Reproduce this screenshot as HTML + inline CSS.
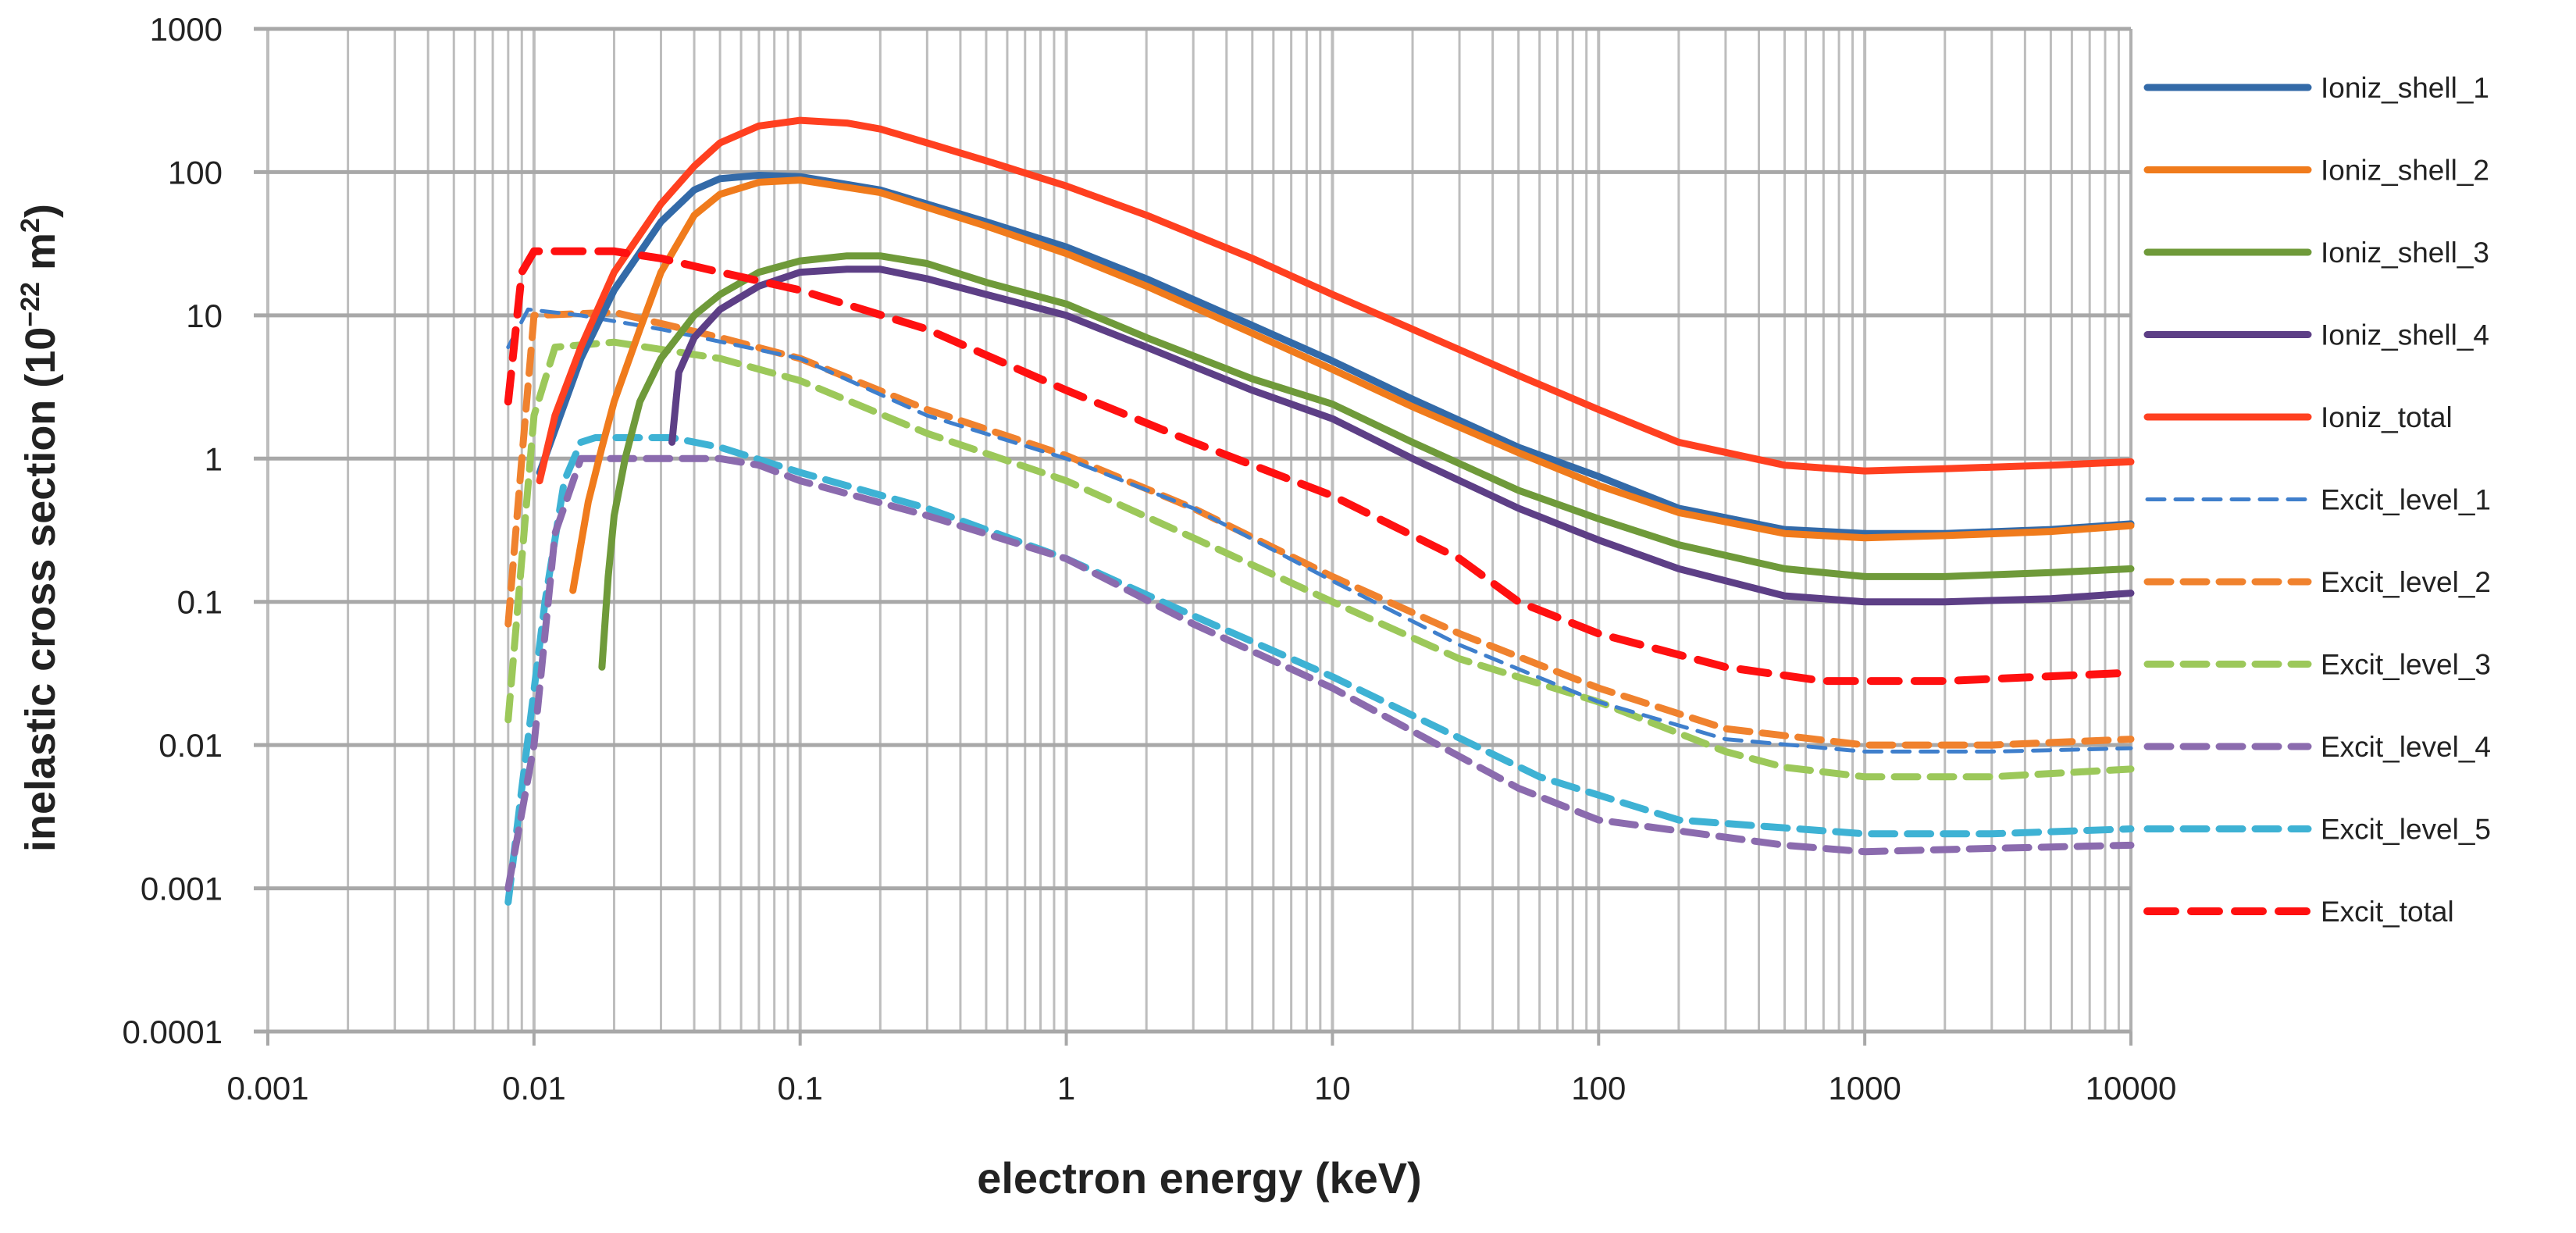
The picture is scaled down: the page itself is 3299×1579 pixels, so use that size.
<!DOCTYPE html>
<html><head><meta charset="utf-8"><style>
html,body{margin:0;padding:0;background:#fff;}
svg{display:block;}
text{font-family:"Liberation Sans",sans-serif;}
</style></head>
<body>
<svg id="chart" width="3299" height="1579" viewBox="0 0 3299 1579" xmlns="http://www.w3.org/2000/svg">
<g id="grid"></g>
<g id="series"></g>
<g id="ticks"></g>
<g id="legend"></g>
<text x="1536" y="1528" text-anchor="middle" font-size="56" font-weight="bold" fill="#222">electron energy (keV)</text>
<text transform="translate(70,676) rotate(-90)" text-anchor="middle" font-size="54" font-weight="bold" fill="#222">inelastic cross section (10<tspan font-size="34" dy="-20">−22</tspan><tspan dy="20"> m</tspan><tspan font-size="34" dy="-20">2</tspan><tspan dy="20">)</tspan></text>
</svg>
<script>
const xTickLabels = ["0.001","0.01","0.1","1","10","100","1000","10000"];
const yTickLabels = ["1000","100","10","1","0.1","0.01","0.001","0.0001"];
const seriesNames = ["Ioniz_shell_1","Ioniz_shell_2","Ioniz_shell_3","Ioniz_shell_4","Ioniz_total","Excit_level_1","Excit_level_2","Excit_level_3","Excit_level_4","Excit_level_5","Excit_total"];

const ionizShell1 = [[0.0105,0.8],[0.015,5],[0.02,15],[0.03,45],[0.04,75],[0.05,90],[0.07,95],[0.1,93],[0.2,75],[0.5,45],[1,30],[2,18],[5,8.5],[10,4.8],[20,2.6],[50,1.2],[100,0.75],[200,0.45],[500,0.32],[1000,0.3],[2000,0.3],[5000,0.32],[10000,0.35]];
const ionizShell2 = [[0.014,0.12],[0.016,0.5],[0.018,1.2],[0.02,2.5],[0.025,8],[0.03,20],[0.04,50],[0.05,70],[0.07,85],[0.1,88],[0.2,72],[0.5,42],[1,27],[2,16],[5,7.5],[10,4.2],[20,2.3],[50,1.1],[100,0.65],[200,0.42],[500,0.3],[1000,0.28],[2000,0.29],[5000,0.31],[10000,0.34]];
const ionizShell3 = [[0.018,0.035],[0.019,0.15],[0.02,0.4],[0.022,1],[0.025,2.5],[0.03,5],[0.04,10],[0.05,14],[0.07,20],[0.1,24],[0.15,26],[0.2,26],[0.3,23],[0.5,17],[1,12],[2,7],[5,3.6],[10,2.4],[20,1.3],[50,0.6],[100,0.38],[200,0.25],[500,0.17],[1000,0.15],[2000,0.15],[5000,0.16],[10000,0.17]];
const ionizShell4 = [[0.033,1.3],[0.035,4],[0.04,7],[0.05,11],[0.07,16],[0.1,20],[0.15,21],[0.2,21],[0.3,18],[0.5,14],[1,10],[2,6],[5,3],[10,1.9],[20,1],[50,0.45],[100,0.27],[200,0.17],[500,0.11],[1000,0.1],[2000,0.1],[5000,0.105],[10000,0.115]];
const ionizTotal = [[0.0105,0.7],[0.012,2],[0.015,6],[0.02,20],[0.03,60],[0.04,110],[0.05,160],[0.07,210],[0.1,230],[0.15,220],[0.2,200],[0.3,160],[0.5,120],[1,80],[2,50],[5,25],[10,14],[20,8],[50,3.8],[100,2.2],[200,1.3],[500,0.9],[1000,0.82],[2000,0.85],[5000,0.9],[10000,0.95]];
const excitLevel1 = [[0.008,6],[0.0095,11],[0.015,10],[0.03,8],[0.1,5],[0.3,2],[1,1],[3,0.45],[10,0.14],[30,0.05],[100,0.02],[300,0.011],[1000,0.009],[3000,0.009],[10000,0.0095]];
const excitLevel2 = [[0.008,0.07],[0.009,1],[0.01,10],[0.02,10.5],[0.05,7],[0.1,5],[0.3,2.2],[1,1.05],[3,0.45],[10,0.15],[30,0.06],[100,0.025],[300,0.013],[1000,0.01],[3000,0.01],[10000,0.011]];
const excitLevel3 = [[0.008,0.015],[0.01,2],[0.012,6],[0.02,6.5],[0.05,5],[0.1,3.5],[0.3,1.5],[1,0.7],[3,0.28],[10,0.1],[30,0.04],[100,0.02],[300,0.009],[500,0.007],[1000,0.006],[3000,0.006],[10000,0.0068]];
const excitLevel4 = [[0.008,0.001],[0.01,0.01],[0.012,0.3],[0.015,1],[0.05,1],[0.07,0.9],[0.1,0.7],[0.3,0.4],[1,0.2],[3,0.07],[10,0.025],[50,0.005],[100,0.003],[500,0.002],[1000,0.0018],[3000,0.0019],[10000,0.002]];
const excitLevel5 = [[0.008,0.0008],[0.009,0.005],[0.011,0.1],[0.013,0.7],[0.015,1.3],[0.017,1.4],[0.033,1.4],[0.05,1.2],[0.1,0.8],[0.3,0.45],[1,0.2],[3,0.08],[10,0.03],[60,0.006],[200,0.003],[1000,0.0024],[3000,0.0024],[10000,0.0026]];
const excitTotal = [[0.008,2.5],[0.009,20],[0.01,28],[0.02,28],[0.03,25],[0.05,20],[0.1,15],[0.3,8],[1,3],[3,1.3],[10,0.55],[30,0.2],[50,0.1],[100,0.06],[300,0.035],[700,0.028],[2000,0.028],[10000,0.032]];

const X0=343, X1=2729, Y0=37, Y1=1321;
function xs(v){return X0+(Math.log10(v)+3)/7*(X1-X0);}
function ys(v){return Y0+(3-Math.log10(v))/7*(Y1-Y0);}
const NS="http://www.w3.org/2000/svg";
function mk(tag,attrs,parent){const e=document.createElementNS(NS,tag);for(const k in attrs)e.setAttribute(k,attrs[k]);parent.appendChild(e);return e;}

const grid=document.getElementById('grid');
for(let d=-3;d<4;d++){for(let m=1;m<10;m++){const v=m*Math.pow(10,d);const x=xs(v);
 const l=mk('line',{x1:x,x2:x,y1:Y0,y2:Y1,stroke:'#bdbdbd','stroke-width':m===1?4:3},grid);
 
 }}
{const x=xs(10000);const l=mk('line',{x1:x,x2:x,y1:Y0,y2:Y1+18,stroke:'#b0b0b0','stroke-width':4},grid);
 
 }
for(let i=0;i<8;i++){const y=ys(Math.pow(10,3-i));
 const l=mk('line',{x1:X0-18,x2:X1,y1:y,y2:y,stroke:'#a8a8a8','stroke-width':5},grid);
 
 }
for(let i=0;i<8;i++){const x=xs(Math.pow(10,i-3));
 const l=mk('line',{x1:x,x2:x,y1:Y1,y2:Y1+18,stroke:'#a8a8a8','stroke-width':4},grid);
 
 }

const ticks=document.getElementById('ticks');
xTickLabels.forEach((t,i)=>{const e=mk('text',{x:xs(Math.pow(10,i-3)),y:1408,'text-anchor':'middle','font-size':42,fill:'#222'},ticks);e.textContent=t;
 
 });
yTickLabels.forEach((t,i)=>{const e=mk('text',{x:285,y:ys(Math.pow(10,3-i))+15,'text-anchor':'end','font-size':42,fill:'#222'},ticks);e.textContent=t;
 
 });

const styles=[
 {c:'#336aa8',w:9,d:''},{c:'#f07b1c',w:9,d:''},{c:'#6f9a3a',w:9,d:''},{c:'#5d3f86',w:9,d:''},{c:'#ff4020',w:9,d:''},
 {c:'#3f7fcc',w:5,d:'22 14'},{c:'#f0822e',w:9,d:'30 16'},{c:'#9cc85a',w:9,d:'30 16'},{c:'#8b6bae',w:9,d:'30 16'},{c:'#3eb2d4',w:9,d:'30 16'},{c:'#ff1010',w:10,d:'36 20'}];
const allData=[ionizShell1,ionizShell2,ionizShell3,ionizShell4,ionizTotal,excitLevel1,excitLevel2,excitLevel3,excitLevel4,excitLevel5,excitTotal];
const sg=document.getElementById('series');
const order=[9,8,7,6,5,3,2,0,1,4,10];
order.forEach(i=>{const s=styles[i];const pts=allData[i].map(p=>xs(p[0]).toFixed(1)+','+ys(p[1]).toFixed(1)).join(' ');
 const a={points:pts,fill:'none',stroke:s.c,'stroke-width':s.w,'stroke-linejoin':'round','stroke-linecap':'round'};
 if(s.d)a['stroke-dasharray']=s.d;
 const pl=mk('polyline',a,sg);
 
 });

const lg=document.getElementById('legend');
seriesNames.forEach((n,i)=>{const y=112+i*105.5;const s=styles[i];
 const g=mk('g',{},lg);
 
 
 const a={x1:2750,x2:2956,y1:y,y2:y,stroke:s.c,'stroke-width':s.w,'stroke-linecap':'round'};
 if(s.d)a['stroke-dasharray']=s.d;
 mk('line',a,g);
 const t=mk('text',{x:2972,y:y+13,'font-size':37,fill:'#222'},g);t.textContent=n;});
</script>
</body></html>
